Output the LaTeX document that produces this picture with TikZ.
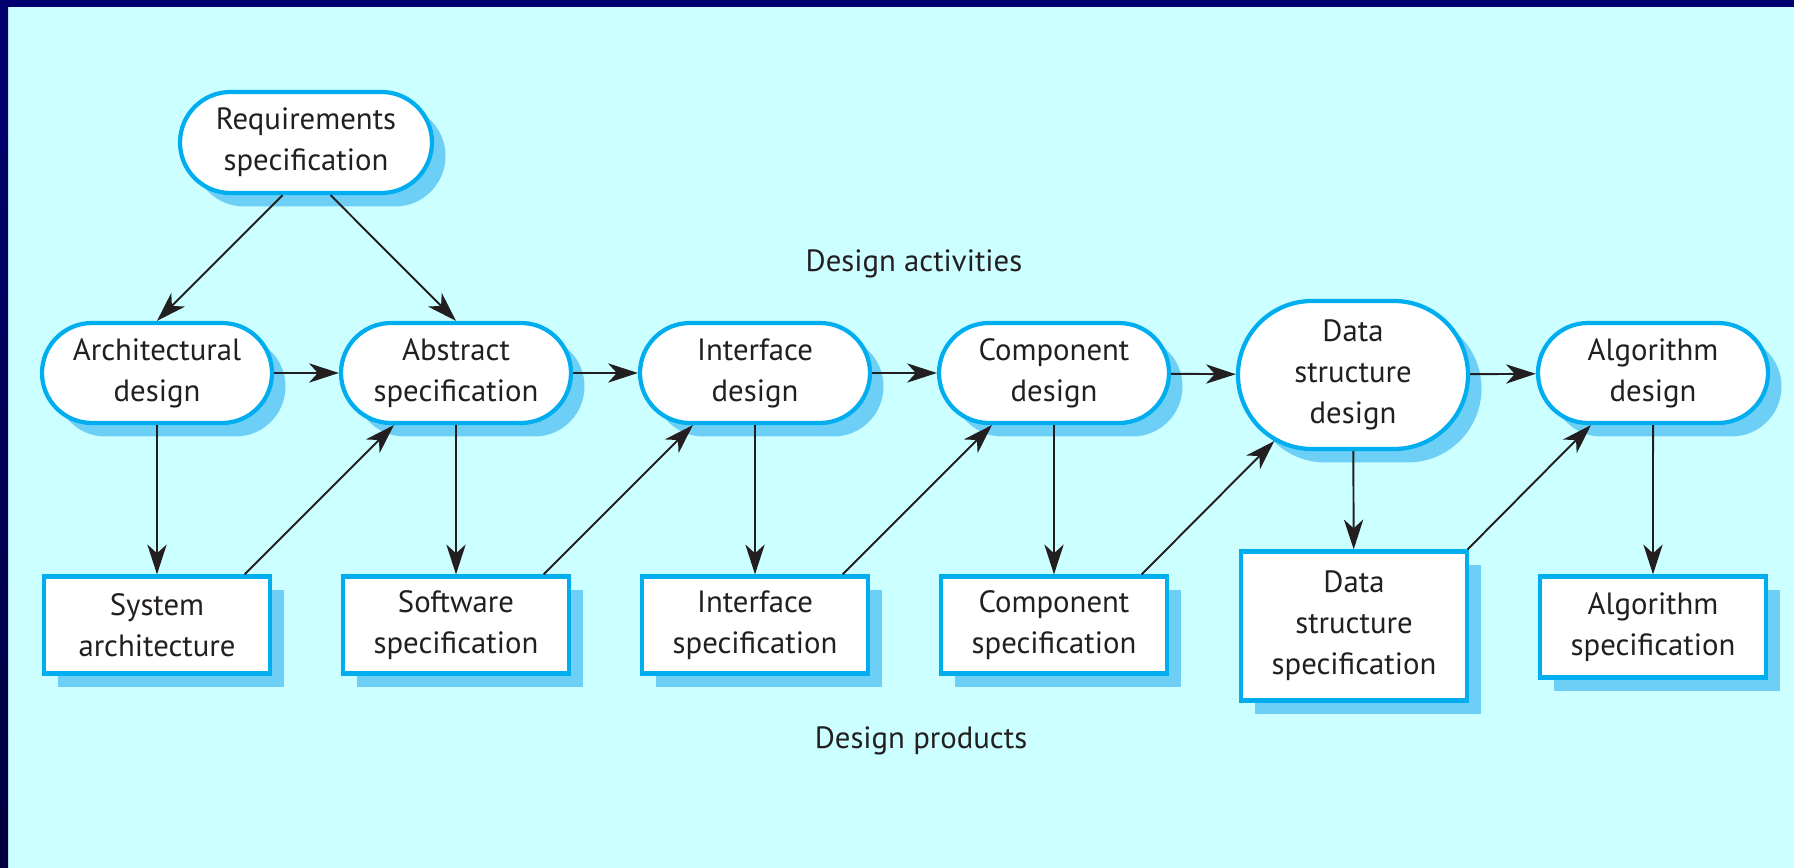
\documentclass[tikz,border=0pt]{standalone}
\usepackage{fontspec}
\setmainfont{PT Sans}
\usepackage{xcolor}
\usetikzlibrary{shapes.misc,arrows.meta,shadows}

\definecolor{bgcyan}{HTML}{CCFFFF}
\definecolor{navytop}{HTML}{000070}
\definecolor{navybot}{HTML}{000040}
\definecolor{rimblue}{HTML}{00AEEF}
\definecolor{shadeblue}{HTML}{6DCFF6}
\definecolor{inkdark}{HTML}{231F20}

\begin{document}
\begin{tikzpicture}[scale=1.0,
    font=\fontsize{17.5}{23.3}\selectfont,
    boxshadow/.style={drop shadow={shadow xshift=0.27cm, shadow yshift=-0.27cm, fill=shadeblue, opacity=1}},
    activity/.style={rounded rectangle, draw=rimblue, line width=2.4pt, fill=white, boxshadow,
        inner xsep=-0.45cm, minimum width=3.7cm, minimum height=2.0cm, align=center, text=inkdark},
    product/.style={rectangle, draw=rimblue, line width=2.4pt, fill=white, boxshadow,
        inner sep=0pt, minimum width=4.52cm, minimum height=1.94cm, align=center, text=inkdark},
    flow/.style={-{Stealth[length=17pt, width=11pt, inset=5pt]}, line width=1.1pt, draw=inkdark}
  ]
        % Background
        \useasboundingbox (0,0) rectangle (35.88,-17.36);
        \fill[bgcyan] (0,0) rectangle (35.88,-17.36);
        \fill[navytop] (0,0) rectangle (35.88,-0.14);
        \shade[top color=navytop, bottom color=navybot] (0,0) rectangle (0.16,-17.36);

        % Requirements
        \node[activity, minimum width=4.14cm, minimum height=2.02cm] (req) at (6.12,-2.85) {Requirements\\specification};

        % Design activities
        \node[activity] (arch) at (3.14,-7.46) {Architectural\\design};
        \node[activity] (abs) at (9.12,-7.46) {Abstract\\specification};
        \node[activity] (int) at (15.10,-7.46) {Interface\\design};
        \node[activity] (comp) at (21.08,-7.46) {Component\\design};
        \node[activity, minimum height=2.96cm] (ds) at (27.06,-7.50) {Data\\structure\\design};
        \node[activity] (alg) at (33.06,-7.46) {Algorithm\\design};

        % Design products
        \node[product] (sys) at (3.14,-12.5) {System\\architecture};
        \node[product] (soft) at (9.12,-12.5) {Software\\specification};
        \node[product] (intsp) at (15.10,-12.5) {Interface\\specification};
        \node[product] (compsp) at (21.08,-12.5) {Component\\specification};
        \node[product, minimum height=2.98cm] (dssp) at (27.08,-12.52) {Data\\structure\\specification};
        \node[product, minimum height=2.02cm] (algsp) at (33.06,-12.54) {Algorithm\\specification};

        % Connectors
        \draw[flow] (req.246) -- (arch.north);
        \draw[flow] (req.295) -- (abs.north);
        \foreach \a/\b in {arch/abs, abs/int, int/comp, comp/ds, ds/alg}
            \draw[flow] (\a) -- (\b);
        \foreach \a/\b in {arch/sys, abs/soft, int/intsp, comp/compsp, ds/dssp, alg/algsp}
            \draw[flow] (\a) -- (\b);
        \foreach \a/\b in {sys/abs, soft/int, intsp/comp, compsp/ds}
            \draw[flow] (\a.30) -- (\b.-140);
        \draw[flow] (dssp.34) -- (alg.-140);

        % Labels
        \node[text=inkdark] (act) at (18.28,-5.28) {Design activities};
        \node[text=inkdark] (prod) at (18.42,-14.82) {Design products};
    \end{tikzpicture}
\end{document}
